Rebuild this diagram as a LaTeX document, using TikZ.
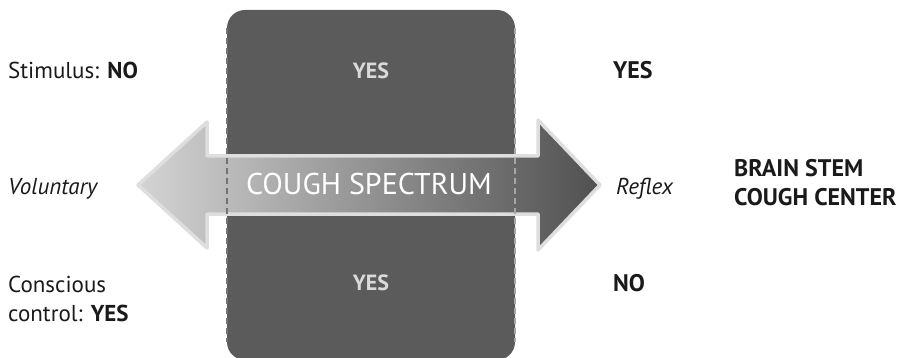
\documentclass[tikz,border=0pt]{standalone}
\usepackage{fontspec}
\setmainfont{PT Sans}
\definecolor{boxgray}{HTML}{5B5B5B}
\definecolor{outl}{HTML}{DEDEDE}
\definecolor{txt}{HTML}{1A1A1A}
\definecolor{boxtxt}{HTML}{DADADA}
\definecolor{shadeL}{HTML}{D4D4D4}
\definecolor{shadeR}{HTML}{505050}
\begin{document}
\begin{tikzpicture}[x=1pt,y=-1pt,
  lbl/.style={anchor=base west,inner sep=0pt,text=txt,font=\fontsize{23}{27}\selectfont},
  boxlbl/.style={anchor=base,inner sep=0pt,text=boxtxt,font=\fontsize{22}{26}\selectfont\bfseries},
  sidelbl/.style={anchor=base west,inner sep=0pt,text=txt,font=\fontsize{24}{28}\selectfont\bfseries},
  edgedash/.style={line width=1.1pt,dash pattern=on 6pt off 4pt}]
\useasboundingbox (0,0) rectangle (899,358);
% dark box
\node[fill=boxgray,rounded corners=18pt,minimum width=288pt,minimum height=350pt,inner sep=0pt] (box) at (371,185) {};
% double arrow
\draw[line width=3.5pt,draw=outl,line join=round,left color=shadeL,right color=shadeR]
  (138,185) -- (207,122) -- (207,156) -- (538,156) -- (538,120) -- (600,185)
  -- (538,250) -- (538,214) -- (207,214) -- (207,248) -- cycle;
% dashed edges
\coordinate (dla) at (227,28);
\coordinate (dlb) at (227,342);
\coordinate (dra) at (515,28);
\coordinate (drb) at (515,342);
\draw[edgedash,draw=black!55] (dla) -- (dlb);
\draw[edgedash,draw=black!35] (dra) -- (drb);
% texts
\node[anchor=base,inner sep=0pt,text=white,font=\fontsize{30}{34}\selectfont] (spec) at (369,195) {COUGH SPECTRUM};
\node[lbl] (stim) at (8,79) {Stimulus: \textbf{NO}};
\node[boxlbl] (yes1) at (371,79) {YES};
\node[sidelbl] (yes2) at (613,79) {YES};
\node[lbl,font=\fontsize{23}{27}\selectfont\itshape] (vol) at (8,195) {Voluntary};
\node[lbl,font=\fontsize{23}{27}\selectfont\itshape] (refl) at (616,195) {Reflex};
\node[sidelbl] (bs1) at (734,177) {BRAIN STEM};
\node[sidelbl] (bs2) at (734,205) {COUGH CENTER};
\node[lbl] (cons1) at (8,292) {Conscious};
\node[lbl] (cons2) at (8,321) {control: \textbf{YES}};
\node[boxlbl] (yes3) at (371,290) {YES};
\node[sidelbl] (no2) at (613,291) {NO};
\end{tikzpicture}
\end{document}
